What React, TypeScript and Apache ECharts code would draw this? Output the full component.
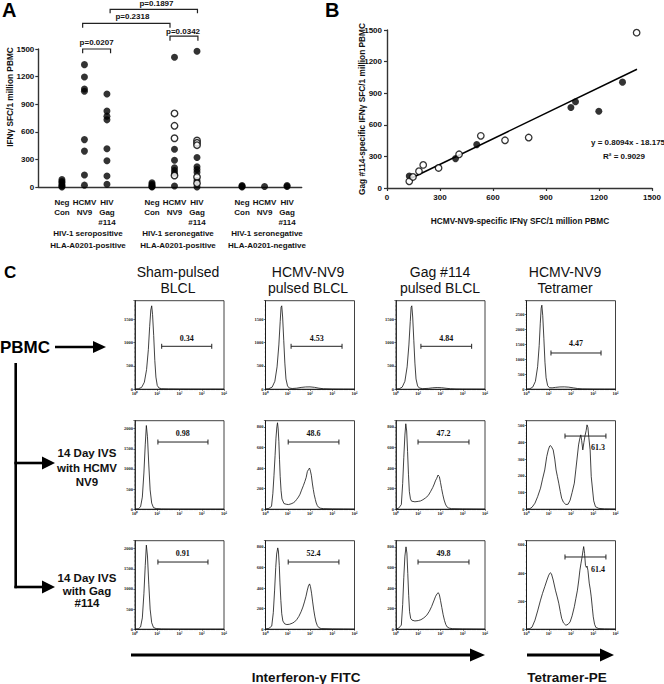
import React, { useEffect, useRef } from "react";
import * as echarts from "echarts";

const SANS = "'Liberation Sans', Arial, Helvetica, sans-serif";
const SERIF = "'Liberation Serif', 'Times New Roman', serif";

// ---------------- Panel A ----------------
const aCategoryPositions = [0, 1, 2, 4, 5, 6, 8, 9, 10];
const aCategoryLabels = [
  "Neg\nCon", "HCMV\nNV9", "HIV\nGag\n#114",
  "Neg\nCon", "HCMV\nNV9", "HIV\nGag\n#114",
  "Neg\nCon", "HCMV\nNV9", "HIV\nGag\n#114",
];
const aFilledValues = [
  [80, 60, 45, 25, 10, 0],
  [1330, 1195, 1065, 1040, 515, 390, 130, 20],
  [1010, 825, 770, 730, 415, 285, 120, 30],
  [45, 30, 15, 5, 0],
  [1410, 410, 290, 210, 180, 150, 10],
  [1475, 320, 220, 190, 160, 70, 0],
  [15, 8, 0],
  [5],
  [15, 5],
];
const aOpenValues = [
  [], [], [], [],
  [800, 665, 530, 125],
  [505, 480, 455, 110, 40],
  [], [], [],
];
const aGroupLine1 = ["HIV-1 seropositive", "HIV-1 seronegative", "HIV-1 seronegative"];
const aGroupLine2 = ["HLA-A0201-positive", "HLA-A0201-positive", "HLA-A0201-negative"];
const aBracketStart = [0.92, 4.8, 0.92, 2.14];
const aBracketEnd = [2.16, 6.04, 4.8, 6.02];
const aBracketTop = [1500, 1641, 1779, 1931];
const aBracketLeg = [1453, 1590, 1732, 1888];
const aBracketLabelX = [1.54, 5.38, 3.13, 4.2];
const aBracketLabelY = [1568, 1688, 1851, 1997];
const aBracketLabels = ["p=0.0207", "p=0.0342", "p=0.2318", "p=0.1897"];

// ---------------- Panel B ----------------
const bFilledX = [126, 388, 508, 1041, 1067, 1199, 1333];
const bFilledY = [114, 279, 412, 764, 818, 729, 1005];
const bOpenX = [126, 147, 181, 205, 292, 408, 531, 668, 802, 1413];
const bOpenY = [63, 105, 159, 219, 190, 320, 495, 453, 479, 1475];
const bSlope = 0.8094;
const bIntercept = -18.175;
const bFitRange = [122, 1415];

// ---------------- Panel C ----------------
const cColumnTitles = ["Sham-pulsed\nBLCL", "HCMV-NV9\npulsed BLCL", "Gag #114\npulsed BLCL", "HCMV-NV9\nTetramer"];
const cXTickLabels = ["10\u2070", "10\u00b9", "10\u00b2", "10\u00b3", "10\u2074"];

const histR1C1 = [[0,2],[0.15,8],[0.3,40],[0.42,150],[0.52,420],[0.6,850],[0.66,1350],[0.71,1700],[0.75,1790],[0.79,1600],[0.84,1150],[0.89,620],[0.94,260],[1.0,80],[1.08,25],[1.2,10],[1.5,6],[2,4],[2.5,3],[3,2],[3.5,2],[4,1]];
const histR1C2 = [[0,2],[0.15,10],[0.3,45],[0.42,170],[0.52,480],[0.6,950],[0.66,1450],[0.7,1760],[0.73,1790],[0.77,1550],[0.82,1050],[0.87,560],[0.92,220],[0.99,70],[1.07,25],[1.2,15],[1.4,22],[1.6,38],[1.8,48],[2.0,50],[2.2,40],[2.4,22],[2.6,10],[3,4],[3.5,2],[4,1]];
const histR1C3 = [[0,2],[0.15,10],[0.28,45],[0.4,170],[0.5,480],[0.58,950],[0.64,1450],[0.68,1760],[0.71,1790],[0.75,1550],[0.8,1050],[0.85,560],[0.9,220],[0.97,70],[1.05,25],[1.2,12],[1.45,18],[1.65,30],[1.85,36],[2.05,32],[2.25,20],[2.45,10],[2.7,5],[3,3],[3.5,2],[4,1]];
const histR1C4 = [[0,3],[0.15,15],[0.28,70],[0.4,260],[0.5,750],[0.57,1450],[0.62,2200],[0.66,2700],[0.69,2800],[0.73,2450],[0.78,1700],[0.83,900],[0.88,380],[0.95,120],[1.03,50],[1.15,45],[1.3,60],[1.5,75],[1.7,78],[1.9,68],[2.1,45],[2.3,22],[2.5,10],[3,5],[3.5,3],[4,2]];
const histR2C1 = [[0,2],[0.15,10],[0.25,60],[0.33,300],[0.4,900],[0.46,1600],[0.51,2080],[0.56,1800],[0.62,1100],[0.68,480],[0.75,150],[0.83,40],[0.95,15],[1.2,6],[1.6,4],[2,3],[3,2],[4,1]];
const histR2C2 = [[0,2],[0.15,8],[0.27,27],[0.33,150],[0.38,325],[0.43,520],[0.47,690],[0.51,800],[0.54,840],[0.57,780],[0.6,660],[0.63,480],[0.66,320],[0.7,180],[0.74,100],[0.83,55],[0.93,48],[1.03,45],[1.15,52],[1.25,62],[1.33,75],[1.4,95],[1.48,118],[1.55,145],[1.62,185],[1.7,228],[1.77,270],[1.83,310],[1.88,365],[1.93,385],[1.98,400],[2.02,370],[2.06,330],[2.11,245],[2.15,190],[2.19,140],[2.24,95],[2.28,60],[2.33,35],[2.38,20],[2.46,10],[2.6,5],[3,3],[3.5,2],[4,1]];
const histR2C3 = [[0,2],[0.12,10],[0.24,45],[0.3,250],[0.35,500],[0.4,720],[0.44,830],[0.48,760],[0.52,560],[0.56,340],[0.6,170],[0.65,100],[0.7,78],[0.85,72],[1.0,76],[1.1,80],[1.21,92],[1.33,110],[1.45,133],[1.55,170],[1.65,210],[1.72,245],[1.77,275],[1.83,300],[1.89,332],[1.92,322],[1.95,316],[2.0,260],[2.05,200],[2.1,145],[2.16,90],[2.22,50],[2.28,25],[2.36,12],[2.5,5],[3,3],[3.5,2],[4,1]];
const histR2C4 = [[0,1],[0.15,3],[0.25,12],[0.38,36],[0.5,75],[0.63,126],[0.72,180],[0.82,235],[0.91,315],[0.98,355],[1.04,378],[1.08,381],[1.13,372],[1.2,355],[1.27,300],[1.33,235],[1.39,195],[1.45,156],[1.52,105],[1.58,66],[1.66,42],[1.77,28],[1.87,30],[1.96,54],[2.05,100],[2.15,156],[2.22,240],[2.27,300],[2.34,385],[2.39,420],[2.44,445],[2.48,410],[2.53,355],[2.58,400],[2.63,440],[2.68,470],[2.72,505],[2.76,490],[2.8,430],[2.86,355],[2.91,195],[2.97,115],[3.02,50],[3.1,15],[3.25,5],[3.5,2],[4,1]];
const histR3C1 = [[0,2],[0.15,10],[0.25,55],[0.33,280],[0.4,880],[0.46,1580],[0.51,2090],[0.56,1820],[0.62,1120],[0.68,500],[0.75,160],[0.83,45],[0.95,15],[1.2,6],[1.6,4],[2,3],[3,2],[4,1]];
const histR3C2 = [[0,2],[0.15,8],[0.28,30],[0.35,160],[0.41,380],[0.46,600],[0.5,730],[0.55,790],[0.58,760],[0.62,620],[0.65,450],[0.69,280],[0.73,150],[0.78,80],[0.86,52],[0.96,45],[1.08,48],[1.2,58],[1.3,70],[1.4,92],[1.5,125],[1.6,170],[1.68,215],[1.75,265],[1.82,320],[1.88,380],[1.93,420],[1.98,440],[2.02,415],[2.07,350],[2.12,265],[2.17,185],[2.22,120],[2.27,70],[2.33,35],[2.4,15],[2.5,6],[3,3],[3.5,2],[4,1]];
const histR3C3 = [[0,2],[0.12,10],[0.24,40],[0.3,240],[0.35,500],[0.4,710],[0.45,800],[0.49,740],[0.53,540],[0.57,330],[0.61,170],[0.66,105],[0.72,88],[0.85,80],[1.0,84],[1.12,92],[1.25,110],[1.38,135],[1.5,175],[1.6,220],[1.7,275],[1.78,320],[1.85,345],[1.9,355],[1.95,335],[2.0,280],[2.06,210],[2.12,140],[2.18,85],[2.24,45],[2.3,22],[2.4,10],[2.55,5],[3,3],[3.5,2],[4,1]];
const histR3C4 = [[0,1],[0.15,4],[0.25,15],[0.38,64],[0.5,130],[0.63,207],[0.72,255],[0.82,302],[0.92,350],[1.0,385],[1.07,402],[1.12,395],[1.2,350],[1.3,278],[1.38,230],[1.45,185],[1.52,125],[1.58,78],[1.66,45],[1.77,28],[1.87,35],[1.96,52],[2.05,95],[2.15,160],[2.22,220],[2.29,278],[2.35,350],[2.4,420],[2.45,470],[2.5,516],[2.54,560],[2.57,588],[2.61,540],[2.65,455],[2.69,440],[2.72,450],[2.76,420],[2.82,328],[2.87,280],[2.91,230],[2.96,150],[3.0,88],[3.06,35],[3.12,12],[3.25,4],[3.5,2],[4,1]];

const cHistograms = [
  [histR1C1, histR1C2, histR1C3, histR1C4],
  [histR2C1, histR2C2, histR2C3, histR2C4],
  [histR3C1, histR3C2, histR3C3, histR3C4],
];
const cYMax = [[1900, 1900, 1900, 2950], [2200, 860, 860, 530], [2200, 860, 860, 630]];
const cYInterval = [[500, 500, 500, 500], [500, 200, 200, 100], [500, 200, 200, 200]];
const cGateStart = [[1.2, 1.15, 1.12, 1.1], [1.03, 1.02, 0.99, 1.73], [1.03, 1.02, 0.99, 1.73]];
const cGateEnd = [[3.45, 3.44, 3.4, 3.35], [3.28, 3.3, 3.28, 3.57], [3.28, 3.3, 3.28, 3.57]];
const cGateY = [[921, 921, 921, 1207], [1670, 653, 653, 438], [1670, 653, 653, 514]];
const cGateLabelX = [[2.33, 2.3, 2.26, 2.23], [2.15, 2.16, 2.14, 3.21], [2.15, 2.16, 2.14, 3.21]];
const cGateLabelY = [[1080, 1080, 1080, 1540], [1870, 731, 731, 372], [1870, 731, 731, 428]];
const cGateLabels = [["0.34", "4.53", "4.84", "4.47"], ["0.98", "48.6", "47.2", "61.3"], ["0.91", "52.4", "49.8", "61.4"]];

const plain = (v: number) => String(v);

export default function App() {
  const ref = useRef<HTMLDivElement>(null);

  useEffect(() => {
    if (!ref.current) return;
    const chart = echarts.init(ref.current, undefined, { renderer: "svg" });

    const colLeft = [135, 265.5, 396, 526.5];
    const rowTop = [300.7, 420.7, 540.7];
    const boxW = 89;
    const boxH = 88.5;
    const ink = "#111";

    const grids: any[] = [
      { left: 38.3, top: 49, width: 263.4, height: 138 },
      { left: 387, top: 30, width: 265, height: 158 },
    ];
    const xAxes: any[] = [
      {
        gridIndex: 0, type: "value", min: -1.05, max: 10.65,
        axisLine: { show: true, onZero: false, lineStyle: { color: "#333", width: 1.4 } },
        axisTick: { show: false }, axisLabel: { show: false }, splitLine: { show: false },
      },
      {
        gridIndex: 1, type: "value", min: 0, max: 1500, interval: 300,
        axisLine: { show: true, onZero: false, lineStyle: { color: "#333", width: 1.4 } },
        axisTick: { show: true, length: 3, lineStyle: { color: "#333", width: 1.2 } },
        axisLabel: { fontSize: 8, fontWeight: "bold", color: "#111", fontFamily: SANS, margin: 5, formatter: plain },
        splitLine: { show: false },
      },
    ];
    const yAxes: any[] = [
      {
        gridIndex: 0, type: "value", min: 0, max: 1500, interval: 300,
        axisLine: { show: true, onZero: false, lineStyle: { color: "#333", width: 1.4 } },
        axisTick: { show: true, length: 3, lineStyle: { color: "#333", width: 1.2 } },
        axisLabel: { fontSize: 8, fontWeight: "bold", color: "#111", fontFamily: SANS, margin: 4, formatter: plain },
        splitLine: { show: false },
      },
      {
        gridIndex: 1, type: "value", min: 0, max: 1500, interval: 300,
        axisLine: { show: true, onZero: false, lineStyle: { color: "#333", width: 1.4 } },
        axisTick: { show: true, length: 3, lineStyle: { color: "#333", width: 1.2 } },
        axisLabel: { fontSize: 8, fontWeight: "bold", color: "#111", fontFamily: SANS, margin: 5, formatter: plain },
        splitLine: { show: false },
      },
    ];

    const series: any[] = [];

    // Panel A dots
    const aFilledData: number[][] = [];
    const aOpenData: number[][] = [];
    aCategoryPositions.forEach((pos, i) => {
      aFilledValues[i].forEach((v) => aFilledData.push([pos, v]));
      aOpenValues[i].forEach((v) => aOpenData.push([pos, v]));
    });
    series.push({
      type: "scatter", xAxisIndex: 0, yAxisIndex: 0, data: aFilledData,
      symbol: "circle", symbolSize: 7, itemStyle: { color: "#000" }, z: 5,
    });
    series.push({
      type: "scatter", xAxisIndex: 0, yAxisIndex: 0, data: aOpenData,
      symbol: "circle", symbolSize: 6.5,
      itemStyle: { color: "#fff", borderColor: "#000", borderWidth: 1.4 }, z: 6,
    });
    // Panel A brackets
    series.push({
      type: "custom", xAxisIndex: 0, yAxisIndex: 0,
      data: aBracketStart.map((x, i) => [x, aBracketTop[i]]),
      renderItem: (params: any, api: any) => {
        const i = params.dataIndex;
        const a = api.coord([aBracketStart[i], aBracketLeg[i]]);
        const b = api.coord([aBracketStart[i], aBracketTop[i]]);
        const c = api.coord([aBracketEnd[i], aBracketTop[i]]);
        const d = api.coord([aBracketEnd[i], aBracketLeg[i]]);
        const t = api.coord([aBracketLabelX[i], aBracketLabelY[i]]);
        return {
          type: "group",
          children: [
            {
              type: "polyline",
              shape: { points: [a, b, c, d] },
              style: { stroke: "#222", lineWidth: 1.2, fill: "none" },
            },
            {
              type: "text", x: t[0], y: t[1],
              style: {
                text: aBracketLabels[i], fill: "#111",
                font: `bold 8px ${SANS}`, textAlign: "center", textVerticalAlign: "middle",
              },
            },
          ],
        };
      },
      z: 4,
    });
    // Panel A category labels
    series.push({
      type: "custom", xAxisIndex: 0, yAxisIndex: 0,
      data: aCategoryPositions.map((p) => [p, 0]),
      renderItem: (params: any, api: any) => {
        const i = params.dataIndex;
        const p = api.coord([aCategoryPositions[i], 0]);
        return {
          type: "text", x: p[0], y: p[1] + 10,
          style: {
            text: aCategoryLabels[i], fill: "#111", lineHeight: 10,
            font: `bold 8px ${SANS}`, textAlign: "center", textVerticalAlign: "top",
          },
        };
      },
    });

    // Panel B
    series.push({
      type: "line", xAxisIndex: 1, yAxisIndex: 1,
      data: bFitRange.map((x) => [x, bSlope * x + bIntercept]),
      symbol: "none", lineStyle: { color: "#000", width: 1.5 }, z: 3,
    });
    series.push({
      type: "scatter", xAxisIndex: 1, yAxisIndex: 1,
      data: bFilledX.map((x, i) => [x, bFilledY[i]]),
      symbol: "circle", symbolSize: 7, itemStyle: { color: "#000" }, z: 5,
    });
    series.push({
      type: "scatter", xAxisIndex: 1, yAxisIndex: 1,
      data: bOpenX.map((x, i) => [x, bOpenY[i]]),
      symbol: "circle", symbolSize: 6.5,
      itemStyle: { color: "#fff", borderColor: "#000", borderWidth: 1.3 }, z: 6,
    });

    // Panel C histograms
    for (let r = 0; r < 3; r++) {
      for (let c = 0; c < 4; c++) {
        const gi = grids.length;
        grids.push({
          left: colLeft[c], top: rowTop[r], width: boxW, height: boxH,
          show: true, borderColor: ink, borderWidth: 0.8, backgroundColor: "transparent",
        });
        xAxes.push({
          gridIndex: gi, type: "value", min: 0, max: 4, interval: 1,
          axisLine: { show: true, onZero: false, lineStyle: { color: ink, width: 0.8 } },
          axisTick: { show: true, length: 1.6, lineStyle: { color: ink, width: 0.6 } },
          minorTick: { show: true, splitNumber: 9, length: 1, lineStyle: { color: ink, width: 0.4 } },
          axisLabel: {
            fontSize: 4.5, fontWeight: "bold", color: "#222", fontFamily: SERIF, margin: 2,
            formatter: (v: number) => cXTickLabels[Math.round(v)] ?? "",
          },
          splitLine: { show: false },
        });
        yAxes.push({
          gridIndex: gi, type: "value", min: 0, max: cYMax[r][c], interval: cYInterval[r][c],
          axisLine: { show: true, onZero: false, lineStyle: { color: ink, width: 0.8 } },
          axisTick: { show: true, length: 1.6, lineStyle: { color: ink, width: 0.6 } },
          minorTick: { show: true, splitNumber: 5, length: 0.8, lineStyle: { color: ink, width: 0.4 } },
          axisLabel: {
            fontSize: 4.5, fontWeight: "bold", color: "#222", fontFamily: SERIF, margin: 2,
            showMaxLabel: false, formatter: plain,
          },
          splitLine: { show: false },
        });
        series.push({
          type: "line", xAxisIndex: gi, yAxisIndex: gi, data: cHistograms[r][c],
          symbol: "none", smooth: false, lineStyle: { color: ink, width: 0.8 }, z: 3,
        });
        const rr = r, cc = c;
        series.push({
          type: "custom", xAxisIndex: gi, yAxisIndex: gi,
          data: [[cGateStart[r][c], cGateY[r][c]]],
          renderItem: (params: any, api: any) => {
            const p1 = api.coord([cGateStart[rr][cc], cGateY[rr][cc]]);
            const p2 = api.coord([cGateEnd[rr][cc], cGateY[rr][cc]]);
            const lp = api.coord([cGateLabelX[rr][cc], cGateLabelY[rr][cc]]);
            const st = { stroke: "#222", lineWidth: 1 };
            return {
              type: "group",
              children: [
                { type: "line", shape: { x1: p1[0], y1: p1[1], x2: p2[0], y2: p2[1] }, style: st },
                { type: "line", shape: { x1: p1[0], y1: p1[1] - 2.5, x2: p1[0], y2: p1[1] + 2.5 }, style: st },
                { type: "line", shape: { x1: p2[0], y1: p2[1] - 2.5, x2: p2[0], y2: p2[1] + 2.5 }, style: st },
                {
                  type: "text", x: lp[0], y: lp[1],
                  style: {
                    text: cGateLabels[rr][cc], fill: "#111",
                    font: `bold 8px ${SERIF}`, textAlign: "center", textVerticalAlign: "middle",
                  },
                },
              ],
            };
          },
          z: 4,
        });
      }
    }

    const txt = (x: number, y: number, text: string, font: string, extra: any = {}) => ({
      type: "text", x, y,
      style: { text, font, fill: "#111", textAlign: "center", textVerticalAlign: "middle" },
      ...(extra.rotation !== undefined ? { rotation: extra.rotation } : {}),
    });
    const boldS = (s: number) => `bold ${s}px ${SANS}`;
    const arrow = (x1: number, y: number, x2: number, headLen: number, headHalf: number, w: number) => ({
      type: "group",
      children: [
        { type: "line", shape: { x1, y1: y, x2: x2 - headLen + 1, y2: y }, style: { stroke: "#000", lineWidth: w } },
        {
          type: "polygon",
          shape: { points: [[x2 - headLen, y - headHalf], [x2, y], [x2 - headLen, y + headHalf]] },
          style: { fill: "#000" },
        },
      ],
    });

    const graphics: any[] = [
      { type: "text", x: 2, y: 10, style: { text: "A", font: boldS(20), fill: "#000", textAlign: "left", textVerticalAlign: "middle" } },
      { type: "text", x: 325, y: 10, style: { text: "B", font: boldS(20), fill: "#000", textAlign: "left", textVerticalAlign: "middle" } },
      { type: "text", x: 4, y: 272.5, style: { text: "C", font: boldS(17), fill: "#000", textAlign: "left", textVerticalAlign: "middle" } },
      txt(10, 97, "IFN\u03b3 SFC/1 million PBMC", boldS(8.3), { rotation: Math.PI / 2 }),
      txt(362, 109, "Gag #114-specific IFN\u03b3 SFC/1 million PBMC", boldS(8.3), { rotation: Math.PI / 2 }),
      txt(520, 221, "HCMV-NV9-specific IFN\u03b3 SFC/1 million PBMC", boldS(8.3)),
      txt(628, 142, "y = 0.8094x - 18.175", boldS(8)),
      txt(624, 156, "R\u00b2 = 0.9029", boldS(8)),
    ];
    const groupCenters = [88, 178, 267];
    groupCenters.forEach((gx, i) => {
      graphics.push(txt(gx, 233, aGroupLine1[i], boldS(8)));
      graphics.push(txt(gx, 245.5, aGroupLine2[i], boldS(8)));
    });
    const titleCenters = [178, 308, 440, 565];
    titleCenters.forEach((tx, i) => {
      const [l1, l2] = cColumnTitles[i].split("\n");
      graphics.push(txt(tx, 271.5, l1, `14px ${SANS}`));
      graphics.push(txt(tx, 288, l2, `14px ${SANS}`));
    });
    graphics.push({ type: "text", x: 0, y: 347, style: { text: "PBMC", font: boldS(17), fill: "#000", textAlign: "left", textVerticalAlign: "middle" } });
    graphics.push(arrow(55, 347, 106, 13, 6, 2.6));
    graphics.push({ type: "line", shape: { x1: 15.7, y1: 363, x2: 15.7, y2: 588.2 }, style: { stroke: "#000", lineWidth: 2.6 } });
    graphics.push(arrow(14.4, 463, 55, 13, 6.5, 2.6));
    graphics.push(arrow(14.4, 587, 55, 13, 6.5, 2.6));
    ["14 Day IVS", "with HCMV", "NV9"].forEach((s, i) => graphics.push(txt(87, 453 + i * 14.5, s, boldS(11.5))));
    ["14 Day IVS", "with Gag", "#114"].forEach((s, i) => graphics.push(txt(87, 578 + i * 12.5, s, boldS(11.5))));
    graphics.push(arrow(131, 655, 485, 15, 6.5, 3));
    graphics.push(arrow(527, 655, 614, 14, 6.5, 3));
    graphics.push(txt(306, 677, "Interferon-\u03b3 FITC", boldS(13.5)));
    graphics.push(txt(567, 677, "Tetramer-PE", boldS(13.5)));

    chart.setOption({
      animation: false,
      backgroundColor: "#fff",
      textStyle: { fontFamily: SANS },
      grid: grids,
      xAxis: xAxes,
      yAxis: yAxes,
      series,
      graphic: graphics,
    });

    return () => chart.dispose();
  }, []);

  return (
    <div
      ref={ref}
      style={{ position: "absolute", left: 0, top: 0, width: 664, height: 684, background: "#fff" }}
    />
  );
}
